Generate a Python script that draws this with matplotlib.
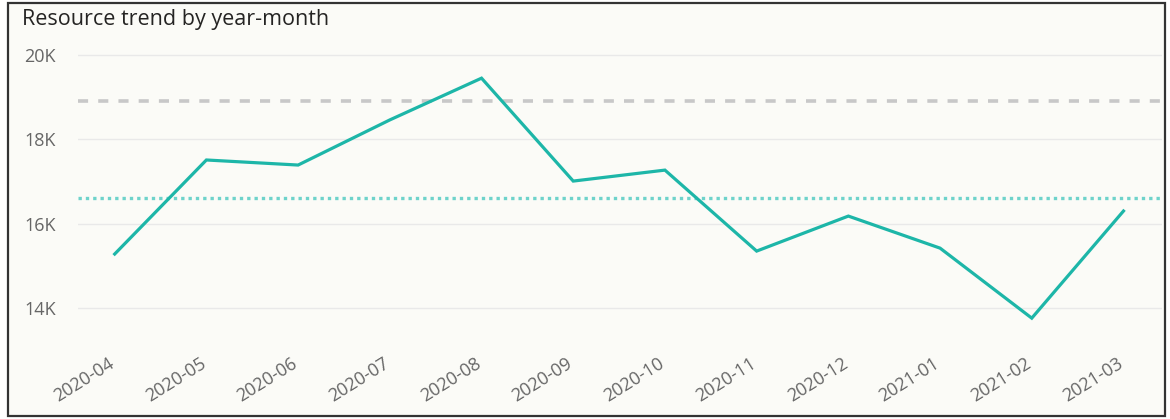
import matplotlib
matplotlib.use("Agg")
import matplotlib.pyplot as plt
import matplotlib.transforms as mtransforms
from matplotlib.patches import Rectangle

months = ["2020-04", "2020-05", "2020-06", "2020-07", "2020-08", "2020-09",
          "2020-10", "2020-11", "2020-12", "2021-01", "2021-02", "2021-03"]
resources = [15280, 17510, 17390, 18460, 19450, 17010,
             17270, 15350, 16180, 15420, 13760, 16300]
upper_ref = 18910
average_ref = sum(resources) / len(resources)
yticks = [14000, 16000, 18000, 20000]
ytick_labels = ["14K", "16K", "18K", "20K"]

plt.rcParams['font.family'] = ['Open Sans', 'DejaVu Sans']

fig = plt.figure(figsize=(11.7, 4.19), dpi=100)
fig.patch.set_facecolor("white")
border = Rectangle((8/1170, 3/419), 1157/1170, 413/419, transform=fig.transFigure,
                   facecolor="#FBFBF7", edgecolor="#333333", linewidth=1.6, zorder=-10)
fig.add_artist(border)

ax = fig.add_axes([78/1170, 1-350.2/419, (1162-78)/1170, (350.2-38.1)/419])
ax.set_zorder(5)
ax.set_facecolor("none")
x = list(range(len(months)))
ax.plot(x, resources, color="#1DB6A8", linewidth=2.3, zorder=3, solid_joinstyle="miter")
ax.axhline(upper_ref, color="#C8C8C8", linewidth=2.6, linestyle=(0, (2.8, 2.8)), zorder=2)
ax.axhline(average_ref, color="#6ED3CB", linewidth=2.4, linestyle=(0, (1, 1.2)), zorder=2)

ax.set_xlim(-0.40, 11.42)
ax.set_ylim(13000, 20400)
ax.set_yticks(yticks)
ax.set_yticklabels(ytick_labels)
ax.set_xticks(x)
ax.set_xticklabels(months, rotation=32, ha="right", rotation_mode="anchor")
ax.grid(axis="y", color="#E9E9E9", linewidth=1)
ax.set_axisbelow(True)
for s in ax.spines.values():
    s.set_visible(False)
ax.tick_params(axis="both", length=0, labelsize=13, labelcolor="#666666")
ax.tick_params(axis="y", pad=16)
ax.tick_params(axis="x", pad=3)

offset = mtransforms.ScaledTranslation(-7/100, 0, fig.dpi_scale_trans)
for t in ax.xaxis.get_major_ticks():
    t.label1.set_transform(t.label1.get_transform() + offset)

fig.text(22/1170, 1-20/419, "Resource trend by year-month", fontsize=15.5, color="#252423",
         va="center", ha="left")

fig.savefig("out.png", dpi=100, facecolor=fig.get_facecolor())
